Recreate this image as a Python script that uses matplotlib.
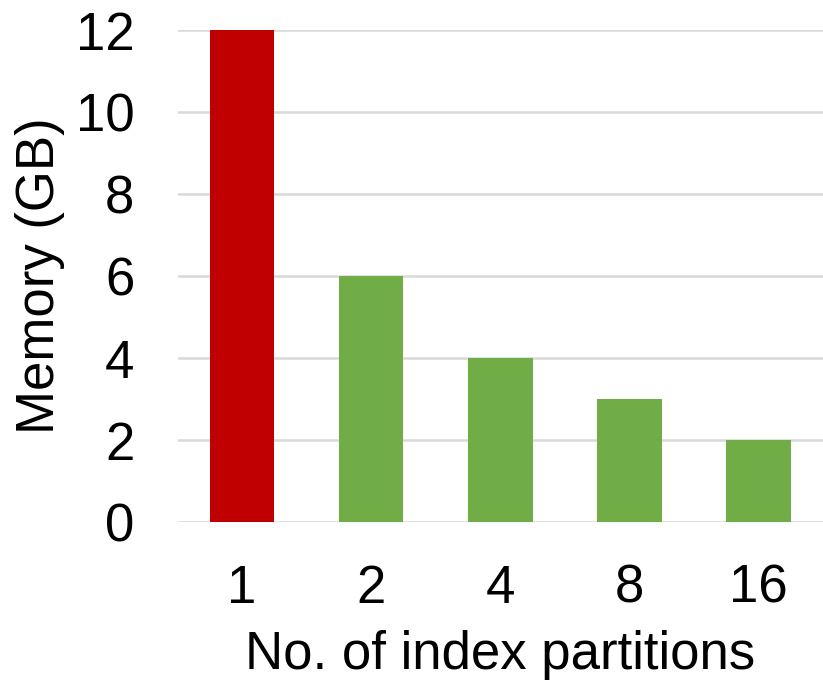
import matplotlib
matplotlib.use("Agg")
import matplotlib.pyplot as plt
import matplotlib.patheffects as pe

categories = ["1", "2", "4", "8", "16"]
memory_gb = [12, 6, 4, 3, 2]
bar_colors = ["#C00000", "#70AD47", "#70AD47", "#70AD47", "#70AD47"]
y_ticks = [0, 2, 4, 6, 8, 10, 12]

plt.rcParams['font.family'] = ['Liberation Sans', 'DejaVu Sans']

fig = plt.figure(figsize=(8.23, 6.84), dpi=100)
ax = fig.add_axes([177.5 / 823, 1 - 522 / 684, 1 - 177.5 / 823, (522 - 30) / 684])

x = list(range(len(categories)))
bars = ax.bar(x, memory_gb, width=0.5, color=bar_colors, zorder=3)
for b in bars:
    b.set_path_effects([pe.SimplePatchShadow(offset=(0, -1.5), shadow_rgbFace="#808080", alpha=0.35),
                        pe.Normal()])

ax.set_xlim(-0.5, len(categories) - 0.5)
ax.set_ylim(0, 12)
ax.set_yticks(y_ticks)
ax.set_xticks(x)
ax.set_xticklabels(categories)
ax.yaxis.grid(True, color="#D9D9D9", linewidth=1.8, zorder=0)
ax.set_axisbelow(True)
for s in ax.spines.values():
    s.set_visible(False)
ax.tick_params(axis="both", length=0, labelsize=38, colors="black")
ax.tick_params(axis="y", pad=31)
ax.tick_params(axis="x", pad=30)
ax.set_xlabel("No. of index partitions", fontsize=38, labelpad=12)
ax.set_ylabel("Memory (GB)", fontsize=38, labelpad=8)

fig.savefig("out.png", dpi=100)
